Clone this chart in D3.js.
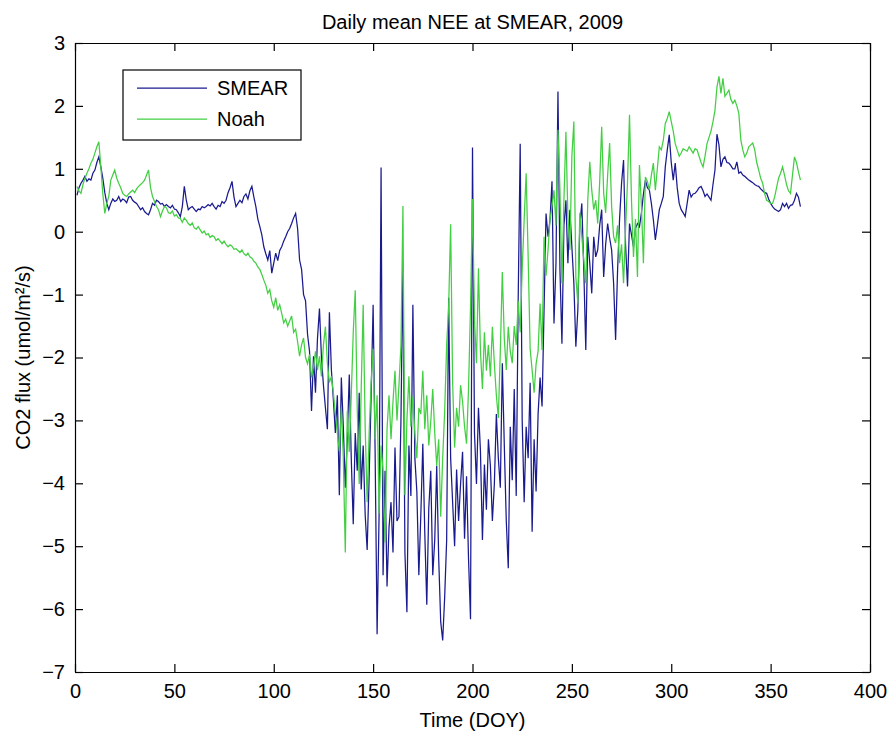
<!DOCTYPE html>
<meta charset="utf-8">
<style>
body { margin: 0; background: #fff; }
text { font-family: 'Liberation Sans', Arial, sans-serif; fill: #000; }
.axis text { font-size: 20px; }
.axis path, .axis line { stroke: #000; stroke-width: 1.2; }
</style>
<svg id="chart" width="889" height="734"></svg>
<script src="https://d3js.org/d3.v7.min.js"></script>
<script>

// x values: day of year
var days = d3.range(1, 366);

// daily mean NEE, SMEAR measurements
var smear = [
  0.58, 0.70, 0.77, 0.82, 0.88, 0.80, 0.84, 0.82, 0.93, 0.98,
  1.10, 1.19, 1.03, 0.85, 0.62, 0.45, 0.35, 0.45, 0.52, 0.48,
  0.50, 0.56, 0.48, 0.52, 0.50, 0.46, 0.55, 0.56, 0.50, 0.47,
  0.45, 0.40, 0.35, 0.38, 0.32, 0.29, 0.27, 0.35, 0.45, 0.42,
  0.50, 0.48, 0.44, 0.45, 0.40, 0.43, 0.40, 0.38, 0.42, 0.36,
  0.35, 0.30, 0.24, 0.40, 0.72, 0.50, 0.35, 0.38, 0.40, 0.36,
  0.32, 0.36, 0.35, 0.40, 0.38, 0.40, 0.43, 0.41, 0.45, 0.40,
  0.36, 0.42, 0.40, 0.48, 0.45, 0.50, 0.62, 0.70, 0.80, 0.55,
  0.40, 0.45, 0.50, 0.46, 0.56, 0.60, 0.52, 0.65, 0.72, 0.55,
  0.40, 0.20, 0.08, -0.05, -0.24, -0.35, -0.45, -0.30, -0.66, -0.50,
  -0.34, -0.46, -0.30, -0.24, -0.15, -0.08, 0.00, 0.05, 0.13, 0.22,
  0.29, 0.05, -0.45, -0.60, -1.00, -1.10, -1.63, -1.90, -2.85, -1.98,
  -2.56, -1.70, -1.22, -2.00, -2.44, -2.80, -3.14, -1.28, -2.20, -2.67,
  -3.20, -2.60, -4.19, -2.32, -3.10, -4.07, -3.30, -2.27, -3.60, -4.65,
  -3.20, -3.80, -2.56, -4.10, -3.40, -4.50, -5.06, -3.90, -2.60, -1.16,
  -3.50, -6.40, -4.50, 1.02, -5.46, -3.80, -5.64, -4.70, -4.30, -5.10,
  -3.43, -4.60, -4.53, -3.00, -0.49, -5.10, -6.05, -3.40, -4.20, -1.16,
  -3.60, -4.13, -5.46, -4.50, -3.37, -4.80, -5.93, -4.40, -3.80, -5.46,
  -4.90, -3.72, -5.20, -6.20, -6.50, -5.81, -4.90, -1.05, -3.60, -4.30,
  -5.00, -3.78, -4.60, -4.01, -3.50, -4.88, -3.89, -5.20, -6.16, 1.34,
  -3.20, -4.01, -2.80, -3.49, -4.90, -3.70, -4.42, -3.30, -3.72, -4.60,
  -4.01, -2.90, -3.60, -4.07, -2.09, -3.40, -4.60, -5.35, -3.10, -3.95,
  -2.50, -4.20, -1.05, 1.40, -3.00, -4.30, -3.10, -3.60, -2.40, -4.77,
  -3.30, -4.13, -2.90, -2.32, -2.78, -1.24, 0.29, -0.08, 0.19, 0.80,
  -1.46, -0.50, 2.23, -0.61, -1.78, 0.10, 0.50, -0.50, 0.35, -0.24,
  -0.82, -1.83, -1.24, 0.10, 0.45, -0.60, -1.88, -0.08, -0.50, -0.98,
  -0.08, -0.40, -0.29, 0.10, 0.35, -0.72, -0.20, 0.13, -0.10, -0.29,
  -0.82, -1.72, -0.61, 0.20, 0.77, 1.14, -0.20, -0.87, 0.13, -0.05,
  -0.24, 0.05, 0.13, 0.08, 0.30, 0.60, 0.82, 0.70, 0.66, 0.45,
  0.19, -0.13, 0.10, 0.35, 0.45, 0.56, 1.03, 1.30, 1.54, 1.10,
  0.82, 1.09, 0.70, 0.45, 0.35, 0.30, 0.24, 0.45, 0.66, 0.55,
  0.60, 0.61, 0.65, 0.70, 0.72, 0.65, 0.56, 0.60, 0.55, 0.50,
  0.75, 0.98, 1.55, 1.38, 1.03, 1.15, 1.19, 1.10, 1.09, 1.05,
  1.00, 1.00, 1.11, 0.93, 0.95, 0.90, 0.88, 0.85, 0.82, 0.80,
  0.78, 0.75, 0.73, 0.72, 0.68, 0.65, 0.62, 0.61, 0.52, 0.45,
  0.40, 0.36, 0.34, 0.32, 0.35, 0.45, 0.40, 0.45, 0.37, 0.42,
  0.43, 0.50, 0.61, 0.55, 0.40
];

// daily mean NEE, Noah model
var noah = [
  0.72, 0.65, 0.61, 0.75, 0.85, 0.93, 1.00, 1.09, 1.15, 1.25,
  1.35, 1.43, 1.03, 0.60, 0.29, 0.45, 0.56, 0.82, 0.90, 0.98,
  0.85, 0.77, 0.70, 0.61, 0.58, 0.56, 0.60, 0.63, 0.66, 0.62,
  0.68, 0.72, 0.75, 0.78, 0.82, 0.90, 0.98, 0.70, 0.56, 0.48,
  0.40, 0.35, 0.24, 0.33, 0.40, 0.38, 0.30, 0.29, 0.33, 0.25,
  0.27, 0.22, 0.21, 0.15, 0.22, 0.18, 0.13, 0.10, 0.14, 0.06,
  0.04, 0.08, 0.03, -0.02, 0.01, -0.05, -0.03, -0.09, -0.06, -0.08,
  -0.14, -0.11, -0.15, -0.19, -0.15, -0.20, -0.24, -0.21, -0.23, -0.28,
  -0.27, -0.30, -0.33, -0.29, -0.35, -0.38, -0.34, -0.40, -0.42, -0.47,
  -0.50, -0.56, -0.60, -0.68, -0.77, -0.85, -0.98, -0.92, -1.10, -1.20,
  -1.05, -1.25, -1.16, -1.30, -1.45, -1.39, -1.50, -1.42, -1.34, -1.60,
  -1.55, -1.75, -1.98, -1.80, -1.69, -2.00, -2.10, -1.95, -2.32, -2.15,
  -1.90, -2.20, -1.98, -2.30, -1.80, -1.51, -2.10, -2.40, -2.30, -2.56,
  -2.90, -3.20, -3.49, -2.80, -3.60, -5.10, -2.85, -3.50, -2.60, -1.60,
  -0.93, -2.80, -4.01, -2.50, -1.16, -3.10, -4.30, -3.20, -2.40, -1.86,
  -3.30, -2.60, -4.48, -3.40, -3.80, -4.94, -3.14, -2.60, -3.30, -2.70,
  -2.21, -3.00, -2.44, -1.80, 0.41, -4.19, -3.00, -2.30, -3.10, -2.62,
  -3.20, -3.60, -2.80, -2.90, -2.21, -3.14, -2.60, -3.40, -3.02, -2.50,
  -3.20, -3.72, -3.30, -4.53, -3.60, -2.85, -1.80, -1.20, 0.12, -2.40,
  -3.43, -2.80, -3.10, -2.44, -2.70, -3.10, -3.37, -2.50, -1.20, 0.52,
  -1.40, -2.09, -0.58, -1.90, -2.50, -1.60, -2.21, -1.80, -2.30, -1.51,
  -2.10, -2.60, -2.96, -1.90, -0.64, -1.70, -2.20, -1.51, -1.90, -2.09,
  -1.50, -1.80, -1.10, -1.60, -0.60, 0.20, 0.93, -0.40, -1.86, -2.20,
  -2.56, -2.10, -1.90, -1.14, -1.88, -0.08, -0.70, -0.29, 0.20, 0.40,
  0.66, 0.10, 1.62, 0.66, -0.82, 0.50, 1.59, 0.24, -0.29, 1.20,
  1.75, -0.72, -1.14, 0.30, -0.08, -0.45, -0.82, 0.50, 1.11, 0.66,
  0.35, 0.50, 0.13, 0.80, 1.67, 0.61, 0.30, 0.90, 1.41, 0.40,
  -0.08, -0.18, 0.10, -0.50, -0.20, -0.82, 0.03, 0.80, 1.86, 0.50,
  -0.40, 0.20, -0.72, 1.06, 0.40, -0.50, 0.87, 0.80, 0.66, 0.90,
  1.09, 0.66, 1.00, 1.35, 1.30, 1.45, 1.72, 1.80, 1.91, 1.75,
  1.60, 1.40, 1.30, 1.20, 1.25, 1.32, 1.30, 1.28, 1.35, 1.30,
  1.25, 1.32, 1.30, 1.20, 1.10, 1.03, 1.20, 1.40, 1.50, 1.60,
  1.75, 1.93, 2.30, 2.47, 2.20, 2.44, 2.15, 2.20, 2.25, 2.10,
  2.04, 2.09, 2.00, 1.88, 1.46, 1.30, 1.19, 1.25, 1.35, 1.38,
  1.41, 1.30, 1.10, 0.98, 0.85, 0.77, 0.60, 0.50, 0.48, 0.45,
  0.45, 0.55, 0.70, 0.85, 0.93, 1.03, 0.90, 0.75, 0.65, 0.61,
  0.90, 1.19, 1.10, 0.95, 0.82
];

var seriesNames = ["SMEAR", "Noah"];
var seriesColors = ["#1a1a8f", "#42cf42"];
var xTicks = [0, 50, 100, 150, 200, 250, 300, 350, 400];
var yTicks = [3, 2, 1, 0, -1, -2, -3, -4, -5, -6, -7];

var svg = d3.select("#chart"),
    margin = {top: 43, right: 19, bottom: 62, left: 75},
    width = +svg.attr("width") - margin.left - margin.right,
    height = +svg.attr("height") - margin.top - margin.bottom;

var x = d3.scaleLinear().domain([0, 400]).range([0, width]);
var y = d3.scaleLinear().domain([-7, 3]).range([height, 0]);

var g = svg.append("g")
    .attr("transform", "translate(" + margin.left + "," + margin.top + ")");

var line = d3.line()
    .x(function(d) { return x(d[0]); })
    .y(function(d) { return y(d[1]); });

[smear, noah].forEach(function(vals, i) {
    g.append("path")
        .datum(days.map(function(d, j) { return [d, vals[j]]; }))
        .attr("fill", "none")
        .attr("stroke", seriesColors[i])
        .attr("stroke-width", 1.25)
        .attr("d", line);
});

// axes, MATLAB style: ticks inside on all four sides
g.append("g")
    .attr("class", "axis")
    .attr("transform", "translate(0," + height + ")")
    .call(d3.axisBottom(x).tickValues(xTicks).tickSizeInner(-8).tickSizeOuter(0).tickPadding(12));

g.append("g")
    .attr("class", "axis")
    .call(d3.axisLeft(y).tickValues(yTicks).tickSizeInner(-8).tickSizeOuter(0).tickPadding(10));

g.append("g")
    .attr("class", "axis")
    .call(d3.axisTop(x).tickValues(xTicks).tickSizeInner(-8).tickSizeOuter(0).tickFormat(""));

g.append("g")
    .attr("class", "axis")
    .attr("transform", "translate(" + width + ",0)")
    .call(d3.axisRight(y).tickValues(yTicks).tickSizeInner(-8).tickSizeOuter(0).tickFormat(""));

// titles
g.append("text")
    .attr("x", width / 2)
    .attr("y", -14)
    .attr("text-anchor", "middle")
    .style("font-size", "20px")
    .text("Daily mean NEE at SMEAR, 2009");

g.append("text")
    .attr("x", width / 2)
    .attr("y", height + 55)
    .attr("text-anchor", "middle")
    .style("font-size", "20px")
    .text("Time (DOY)");

svg.append("text")
    .attr("transform", "translate(30," + (margin.top + height / 2) + ") rotate(-90)")
    .attr("text-anchor", "middle")
    .style("font-size", "20px")
    .text("CO2 flux (umol/m²/s)");

// legend
var legend = g.append("g").attr("transform", "translate(48,27)");

legend.append("rect")
    .attr("width", 178)
    .attr("height", 70)
    .attr("fill", "#fff")
    .attr("stroke", "#000")
    .attr("stroke-width", 1.2);

seriesNames.forEach(function(name, i) {
    var ly = 18 + i * 31;
    legend.append("line")
        .attr("x1", 14).attr("x2", 84)
        .attr("y1", ly).attr("y2", ly)
        .attr("stroke", seriesColors[i])
        .attr("stroke-width", 1.25);
    legend.append("text")
        .attr("x", 94)
        .attr("y", ly)
        .attr("dy", "0.36em")
        .style("font-size", "20px")
        .text(name);
});

</script>
